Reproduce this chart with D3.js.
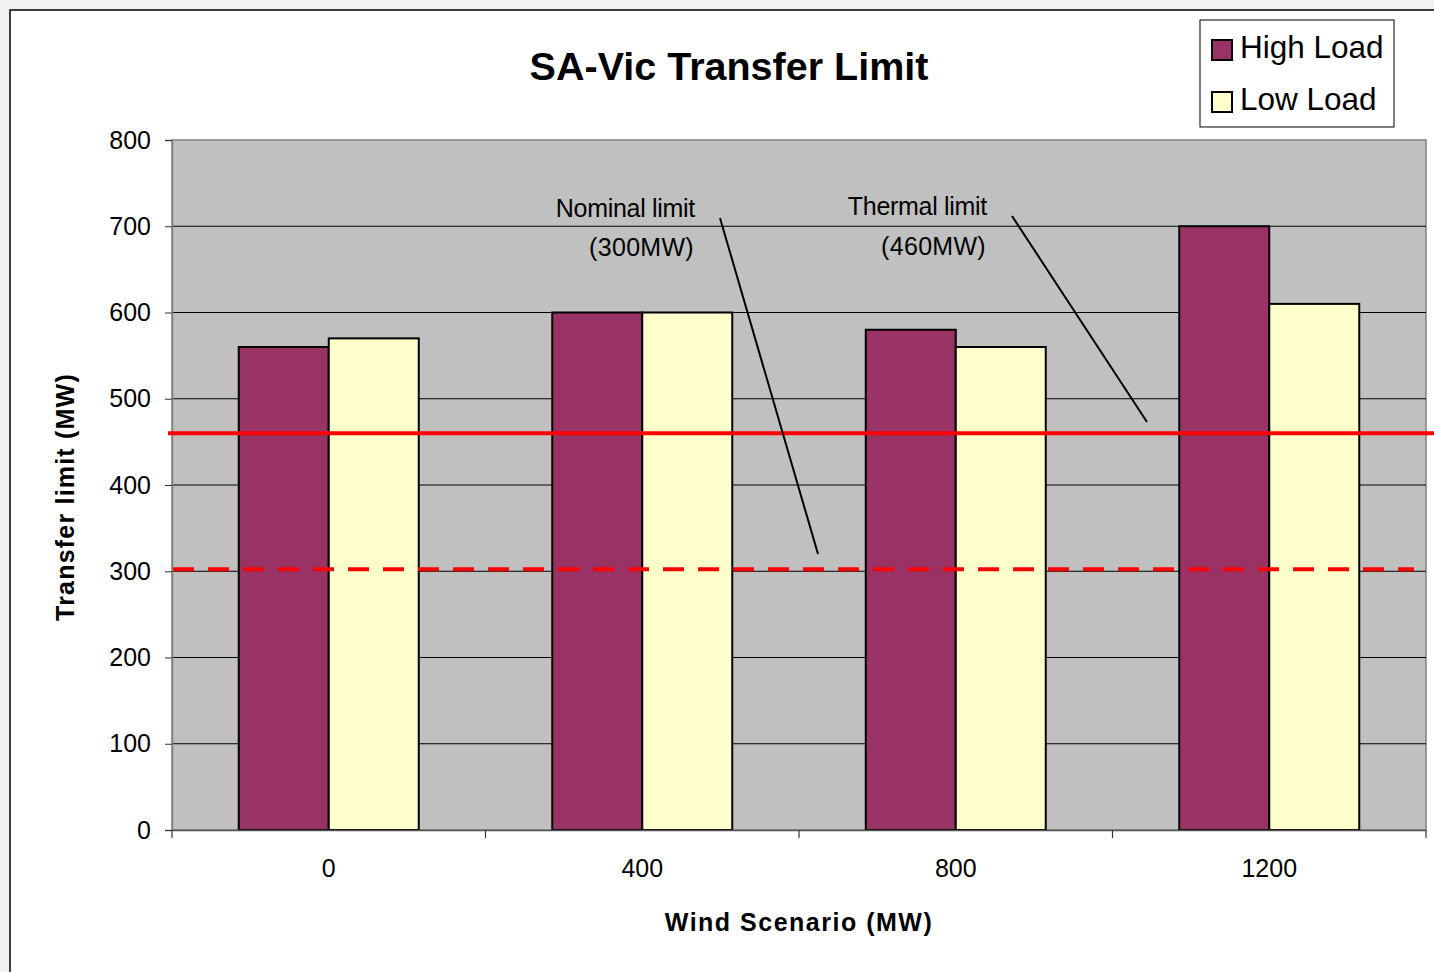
<!DOCTYPE html>
<html><head><meta charset="utf-8">
<script src="https://cdn.jsdelivr.net/npm/d3@7"></script>
<style>
html,body{margin:0;padding:0;background:#f0f0f0;}
svg{display:block;font-family:"Liberation Sans",Arial,sans-serif;}
</style></head>
<body>
<svg id="chart" width="1434" height="972"></svg>
<script>
const categories = ["0", "400", "800", "1200"];
const seriesNames = ["High Load", "Low Load"];
const highLoad = [560, 600, 580, 700];
const lowLoad = [570, 600, 560, 610];
const yTicks = [0, 100, 200, 300, 400, 500, 600, 700, 800];
const thermalLimit = 460;
const nominalLimit = 300;
const colors = ["#993366", "#FFFFCC"];

const svg = d3.select("#chart");
const W = 1434, H = 972;
const L = 172, R = 1426, T = 140, B = 830;

svg.append("rect").attr("x", 10).attr("y", 10).attr("width", W + 20).attr("height", H + 20)
  .attr("fill", "#fff").attr("stroke", "#000").attr("stroke-width", 1.5);

const x0 = d3.scaleBand().domain(categories).range([L, R]).padding(0);
const bw = x0.bandwidth();
const x1 = d3.scaleBand().domain(seriesNames).range([bw / 2 - 90, bw / 2 + 90]).padding(0);
const y = d3.scaleLinear().domain([0, 800]).range([B, T]);

// plot background
svg.append("rect").attr("x", L).attr("y", T).attr("width", R - L).attr("height", B - T)
  .attr("fill", "#c0c0c0").attr("stroke", "#808080").attr("stroke-width", 1.5);

// gridlines
svg.append("g").selectAll("line").data(yTicks.filter(d => d > 0 && d < 800)).join("line")
  .attr("x1", L).attr("x2", R).attr("y1", d => y(d)).attr("y2", d => y(d))
  .attr("stroke", "#000").attr("stroke-width", 1);

// bars
const data = categories.map((c, i) => ({ c, vals: [highLoad[i], lowLoad[i]] }));
const g = svg.append("g").selectAll("g").data(data).join("g")
  .attr("transform", d => `translate(${x0(d.c)},0)`);
g.selectAll("rect").data(d => d.vals.map((v, j) => ({ s: seriesNames[j], v, j }))).join("rect")
  .attr("x", d => x1(d.s)).attr("width", x1.bandwidth())
  .attr("y", d => y(d.v)).attr("height", d => y(0) - y(d.v))
  .attr("fill", d => colors[d.j]).attr("stroke", "#000").attr("stroke-width", 2);

// y axis
const yAxis = svg.append("g").attr("transform", `translate(${L},0)`)
  .call(d3.axisLeft(y).tickValues(yTicks).tickSize(7).tickPadding(14).tickFormat(d3.format("d")));
yAxis.select(".domain").attr("stroke", "#808080").attr("stroke-width", 1.5);
yAxis.selectAll(".tick line").attr("stroke", "#333");
yAxis.selectAll("text").attr("font-size", 25).attr("fill", "#000")
  .attr("font-family", "Liberation Sans, Arial, sans-serif");

// x axis
const xAxis = svg.append("g").attr("transform", `translate(0,${B})`)
  .call(d3.axisBottom(x0).tickSize(0).tickPadding(29));
xAxis.select(".domain").attr("stroke", "#555").attr("stroke-width", 1.5);
xAxis.selectAll("text").attr("font-size", 25).attr("fill", "#000")
  .attr("font-family", "Liberation Sans, Arial, sans-serif");
// category boundary ticks
const bounds = categories.map(c => x0(c)).concat([R]);
svg.append("g").selectAll("line").data(bounds).join("line")
  .attr("x1", d => d).attr("x2", d => d).attr("y1", B).attr("y2", B + 8)
  .attr("stroke", "#333").attr("stroke-width", 1.2);

// limit lines
svg.append("line").attr("x1", L - 4).attr("x2", W).attr("y1", y(thermalLimit)).attr("y2", y(thermalLimit))
  .attr("stroke", "#ff0000").attr("stroke-width", 4);
svg.append("line").attr("x1", L + 1).attr("x2", 1414).attr("y1", y(nominalLimit) - 2).attr("y2", y(nominalLimit) - 2)
  .attr("stroke", "#ff0000").attr("stroke-width", 4).attr("stroke-dasharray", "21,14");

// annotations
const ann = svg.append("g").attr("font-size", 25).attr("fill", "#000").attr("letter-spacing", -0.3);
ann.append("text").attr("x", 695).attr("y", 217).attr("text-anchor", "end").text("Nominal limit");
ann.append("text").attr("x", 694).attr("y", 256).attr("text-anchor", "end").attr("letter-spacing", 0.3).text("(300MW)");
ann.append("text").attr("x", 987).attr("y", 215).attr("text-anchor", "end").text("Thermal limit");
ann.append("text").attr("x", 986).attr("y", 255).attr("text-anchor", "end").attr("letter-spacing", 0.3).text("(460MW)");
svg.append("line").attr("x1", 720).attr("y1", 218).attr("x2", 818).attr("y2", 554)
  .attr("stroke", "#000").attr("stroke-width", 2);
svg.append("line").attr("x1", 1012).attr("y1", 216).attr("x2", 1147).attr("y2", 422)
  .attr("stroke", "#000").attr("stroke-width", 2);

// title
svg.append("text").attr("x", 729).attr("y", 80).attr("text-anchor", "middle")
  .attr("font-size", 39.5).attr("font-weight", "bold").text("SA-Vic Transfer Limit");

// axis titles
svg.append("text").attr("x", 799).attr("y", 931).attr("text-anchor", "middle")
  .attr("font-size", 25).attr("font-weight", "bold").attr("letter-spacing", 1.5).text("Wind Scenario (MW)");
svg.append("text").attr("transform", "translate(74,497) rotate(-90)").attr("text-anchor", "middle")
  .attr("font-size", 25).attr("font-weight", "bold").attr("letter-spacing", 1.2).text("Transfer limit (MW)");

// legend
const lg = svg.append("g");
lg.append("rect").attr("x", 1200).attr("y", 20).attr("width", 194).attr("height", 107)
  .attr("fill", "#fff").attr("stroke", "#000").attr("stroke-width", 1);
seriesNames.forEach((s, i) => {
  lg.append("rect").attr("x", 1212).attr("y", 40 + i * 52).attr("width", 20).attr("height", 20)
    .attr("fill", colors[i]).attr("stroke", "#000").attr("stroke-width", 2);
  lg.append("text").attr("x", 1240).attr("y", 58 + i * 52).attr("font-size", 31.5).text(s);
});
</script>
</body></html>
